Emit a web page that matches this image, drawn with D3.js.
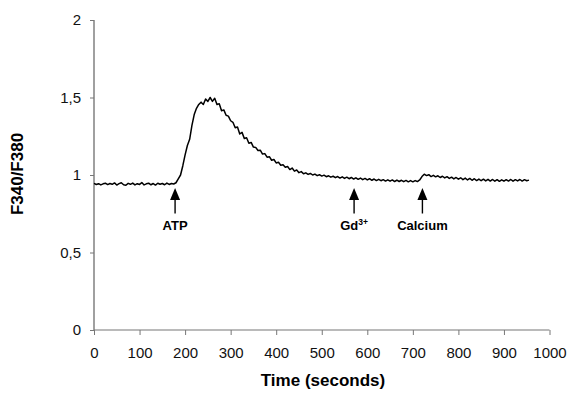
<!DOCTYPE html>
<html><head><meta charset="utf-8">
<script src="https://cdn.jsdelivr.net/npm/d3@7/dist/d3.min.js"></script>
<style>body{margin:0;background:#fff}svg{display:block}text{font-family:"Liberation Sans",Arial,sans-serif}</style>
</head><body>
<svg id="c" width="568" height="393"></svg>
<script>
const timeStep = 5; // seconds between samples
const ratio = [
0.946,0.939,0.944,0.936,0.943,0.947,0.938,0.945,0.940,0.949,0.935,0.944,0.950,0.937,0.934,0.946,0.940,0.948,
0.936,0.944,0.939,0.951,0.936,0.943,0.947,0.937,0.945,0.935,0.947,0.940,0.945,0.937,0.948,0.939,0.945,0.942,
0.950,0.975,1.000,1.060,1.130,1.190,1.230,1.320,1.390,1.430,1.455,1.470,1.455,1.490,1.475,1.500,1.475,1.495,
1.455,1.460,1.415,1.420,1.385,1.380,1.350,1.340,1.305,1.310,1.265,1.275,1.235,1.240,1.205,1.210,1.180,1.178,
1.158,1.160,1.135,1.138,1.115,1.118,1.095,1.100,1.078,1.082,1.063,1.066,1.050,1.055,1.035,1.045,1.025,1.032,
1.015,1.022,1.008,1.014,1.004,1.010,1.000,1.006,0.996,1.002,0.993,0.999,0.989,0.995,0.986,0.992,0.983,0.990,
0.980,0.988,0.978,0.986,0.976,0.984,0.974,0.982,0.972,0.980,0.970,0.978,0.968,0.976,0.966,0.974,0.964,0.972,
0.963,0.970,0.961,0.969,0.960,0.968,0.958,0.967,0.958,0.966,0.957,0.965,0.956,0.964,0.956,0.964,0.958,0.968,
0.990,1.005,0.996,1.002,0.990,0.998,0.988,0.995,0.984,0.992,0.981,0.989,0.978,0.986,0.975,0.984,0.973,0.982,
0.970,0.980,0.968,0.978,0.966,0.976,0.964,0.974,0.963,0.973,0.962,0.972,0.961,0.971,0.960,0.970,0.959,0.969,
0.960,0.970,0.961,0.971,0.960,0.970,0.962,0.971,0.961,0.970,0.963,0.967
];
const xTicks = [0,100,200,300,400,500,600,700,800,900,1000];
const yTicks = [0,0.5,1,1.5,2];
const yTickLabels = ["0","0,5","1","1,5","2"];
const eventTimes = [178, 571, 721];
const eventLabels = ["ATP", "Gd", "Calcium"];
const eventSup = ["", "3+", ""];
const xTitle = "Time (seconds)";
const yTitle = "F340/F380";

const svg = d3.select("#c");
const x = d3.scaleLinear().domain([0,1000]).range([94,549.5]);
const y = d3.scaleLinear().domain([0,2]).range([330,20]);
const pts = ratio.map((v,i)=>[i*timeStep, v]);

// y axis
const ya = svg.append("g").attr("transform","translate(94,0)")
  .call(d3.axisLeft(y).tickValues(yTicks).tickFormat((d,i)=>yTickLabels[i]).tickSize(4).tickPadding(9));
ya.select(".domain").attr("stroke","#a0a0a0").attr("stroke-width",2).attr("d","M0,20V330");
ya.selectAll(".tick line").attr("stroke","#777");
ya.selectAll("text").attr("font-size",15).attr("fill","#111").style("font-family","Liberation Sans, Arial, sans-serif");

// x axis
const xa = svg.append("g").attr("transform","translate(0,330)")
  .call(d3.axisBottom(x).tickValues(xTicks).tickFormat(d3.format("d")).tickSize(5).tickPadding(12));
xa.select(".domain").attr("stroke","#777").attr("stroke-width",1.2).attr("d","M94,0H549.5");
xa.selectAll(".tick line").attr("stroke","#777");
xa.selectAll("text").attr("font-size",15).attr("fill","#111").style("font-family","Liberation Sans, Arial, sans-serif");

// line
svg.append("path").datum(pts)
  .attr("fill","none").attr("stroke","#000").attr("stroke-width",1.5).attr("stroke-linejoin","round")
  .attr("d", d3.line().x(d=>x(d[0])).y(d=>y(d[1])));

// arrows
eventTimes.forEach((t,i)=>{
  const cx = x(t);
  const g = svg.append("g");
  g.append("path").attr("d",`M${cx},188L${cx-5},200L${cx+5},200Z`).attr("fill","#000");
  g.append("line").attr("x1",cx).attr("x2",cx).attr("y1",199).attr("y2",213.5).attr("stroke","#000").attr("stroke-width",1.4);
  const tx = g.append("text").attr("x",cx).attr("y",230).attr("text-anchor","middle")
    .attr("font-size",13).attr("font-weight","bold").attr("fill","#000").text(eventLabels[i]);
  if (eventSup[i]) tx.append("tspan").attr("font-size",8.5).attr("dy",-5).text(eventSup[i]);
});

// titles
svg.append("text").attr("x",323).attr("y",386).attr("text-anchor","middle")
  .attr("font-size",17).attr("font-weight","bold").text(xTitle);
svg.append("text").attr("transform","translate(23,174) rotate(-90)").attr("text-anchor","middle")
  .attr("font-size",17).attr("font-weight","bold").text(yTitle);
</script>
</body></html>
